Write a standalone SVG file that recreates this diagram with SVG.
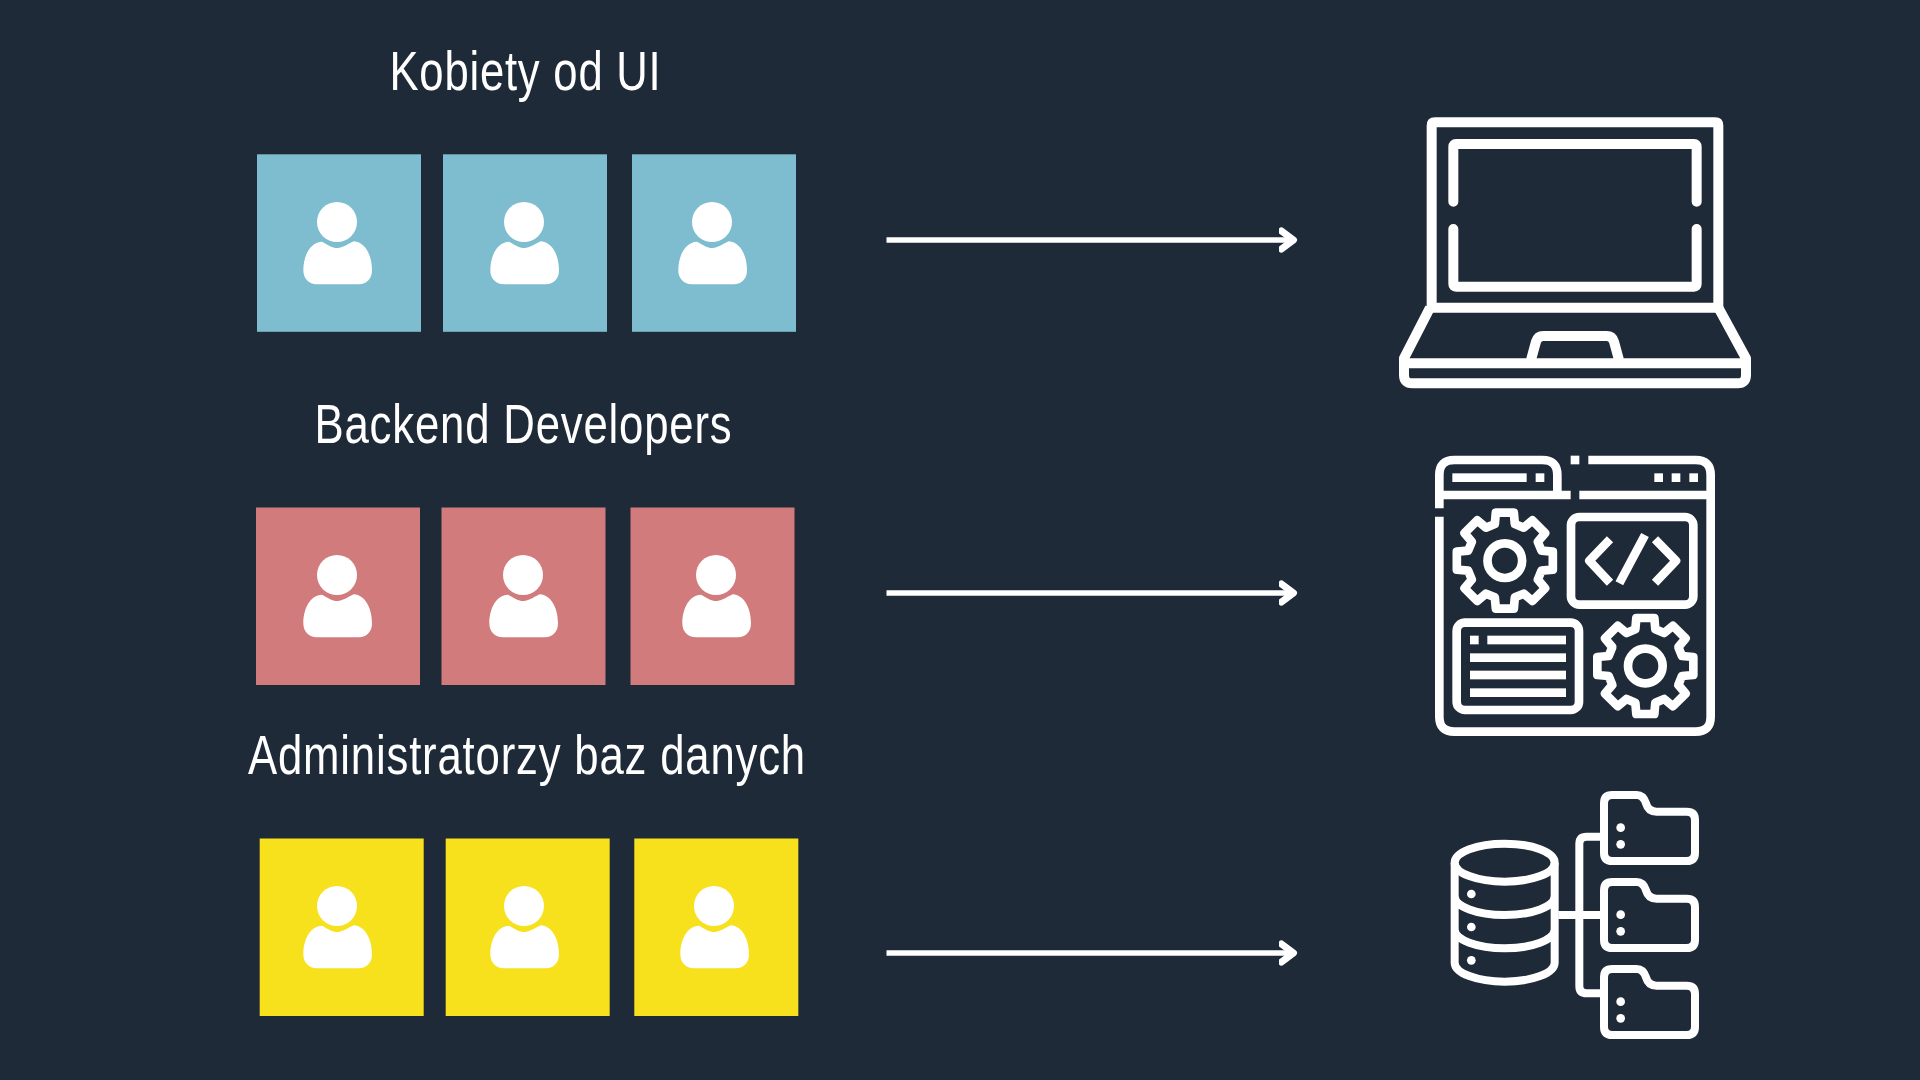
<svg xmlns="http://www.w3.org/2000/svg" width="1920" height="1080" viewBox="0 0 1920 1080">
<style>
.lbl{font-family:"Liberation Sans",Arial,sans-serif;font-size:55px;letter-spacing:1px;fill:#fff;text-anchor:start}
.blue{fill:#7EBDD0}.red{fill:#D17B7D}.yellow{fill:#F7E01C}
.ln{fill:none;stroke:#fff;stroke-linejoin:round}
.w{fill:#fff}
.arrow{fill:none;stroke:#fff;stroke-width:5.500}
</style>
<defs>
<g id="person"><g transform="scale(.3333) translate(-290,-245)"><circle class="w" cx="290" cy="245" r="60"/><path class="w" d="M245 304C265 315 275 323 291 323C308 323 320 312 340 303C375 305 395 345 395 390C395 415 380 432 355 432H230C205 432 189 415 189 390C189 345 210 305 245 304Z"/></g></g>
<marker id="head" markerUnits="userSpaceOnUse" markerWidth="24" markerHeight="30" refX="14" refY="15" orient="auto"><path d="M3 6L15 15L3 24" fill="none" stroke="#fff" stroke-width="7" stroke-linecap="round" stroke-linejoin="round"/></marker>
<g id="gear"><path class="ln" stroke-width="26" stroke-linejoin="miter" d="M-30 -110L-27 -144L27 -144L30 -110L56.6 -99L82.7 -120.9L120.9 -82.7L99 -56.6L110 -30L144 -27L144 27L110 30L99 56.6L120.9 82.7L82.7 120.9L56.6 99L30 110L27 144L-27 144L-30 110L-56.6 99L-82.7 120.9L-120.9 82.7L-99 56.6L-110 30L-144 27L-144 -27L-110 -30L-99 -56.6L-120.9 -82.7L-82.7 -120.9L-56.6 -99Z"/><circle class="ln" stroke-width="26" r="52"/></g>
<g id="folder"><path class="ln" stroke-width="24" d="M547 45H620Q640 45 648 70Q655 95 680 95H770Q795 95 795 120V218Q795 243 770 243H547Q522 243 522 218V70Q522 45 547 45Z"/><circle class="w" cx="572" cy="143" r="13"/><circle class="w" cx="572" cy="193" r="13"/></g>
</defs>
<rect width="1920" height="1080" fill="#1F2A38"/>
<text id="label-ui" class="lbl" x="389.500" y="90" textLength="272" lengthAdjust="spacingAndGlyphs">Kobiety od UI</text>
<text id="label-backend" class="lbl" x="314.500" y="443" textLength="418" lengthAdjust="spacingAndGlyphs">Backend Developers</text>
<text id="label-dba" class="lbl" x="248" y="774" textLength="558" lengthAdjust="spacingAndGlyphs">Administratorzy baz danych</text>
<g id="ui-1"><rect class="blue" x="257" y="154.300" width="164" height="177.500"/><use href="#person" x="337" y="222"/></g>
<g id="ui-2"><rect class="blue" x="443" y="154.300" width="164" height="177.500"/><use href="#person" x="524" y="222"/></g>
<g id="ui-3"><rect class="blue" x="632" y="154.300" width="164" height="177.500"/><use href="#person" x="712" y="222"/></g>
<g id="be-1"><rect class="red" x="256" y="507.500" width="164" height="177.500"/><use href="#person" x="337" y="575"/></g>
<g id="be-2"><rect class="red" x="441.500" y="507.500" width="164" height="177.500"/><use href="#person" x="523" y="575"/></g>
<g id="be-3"><rect class="red" x="630.500" y="507.500" width="164" height="177.500"/><use href="#person" x="716" y="575"/></g>
<g id="db-1"><rect class="yellow" x="259.700" y="838.500" width="164" height="177.500"/><use href="#person" x="337" y="906"/></g>
<g id="db-2"><rect class="yellow" x="445.700" y="838.500" width="164" height="177.500"/><use href="#person" x="524" y="906"/></g>
<g id="db-3"><rect class="yellow" x="634.300" y="838.500" width="164" height="177.500"/><use href="#person" x="714" y="906"/></g>
<g id="connectors">
<path class="arrow" d="M886.500 240H1292.500" marker-end="url(#head)"/>
<path class="arrow" d="M886.500 593H1292.500" marker-end="url(#head)"/>
<path class="arrow" d="M886.500 953H1292.500" marker-end="url(#head)"/>
</g>
<g id="laptop" transform="translate(1380,100) scale(.33333)">
<path class="w" fill-rule="evenodd" d="M165 52H1005Q1030 52 1030 77V638H140V77Q140 52 165 52ZM170 82V608H1000V82Z"/>
<g class="ln" stroke-width="30">
<path stroke-linecap="round" d="M220 305V140Q220 132 228 132H942Q950 132 950 140V305M220 387V552Q220 560 228 560H942Q950 560 950 552V387"/>
<path d="M150 623L72 775V825Q72 850 97 850H1073Q1098 850 1098 825V775L1015 623M72 790H1098"/>
<path d="M453 780L468 725Q473 708 490 708H680Q697 708 702 725L717 780"/>
</g></g>
<g id="code-window" transform="translate(1420,440) scale(.33333)">
<g class="ln" stroke-width="26" stroke-linejoin="miter">
<path d="M58 205V105Q58 60 103 60H367Q412 60 412 105V165M58 165H452M478 165H872M505 60H827Q872 60 872 105V830Q872 875 827 875H103Q58 875 58 830V230"/>
<rect x="453" y="231" width="367" height="263" rx="25"/>
<rect x="110" y="548" width="367" height="262" rx="25"/>
<path d="M570 298L508 362L570 428M675 285L598 430M705 298L768 362L705 428"/>
</g>
<g class="w">
<rect x="452" y="47" width="26" height="26"/><rect x="97" y="100" width="223" height="26"/><rect x="347" y="100" width="26" height="26"/><rect x="703" y="100" width="26" height="26"/><rect x="755" y="100" width="26" height="26"/><rect x="808" y="100" width="26" height="26"/>
<rect x="150" y="587" width="26" height="26"/><rect x="202" y="587" width="236" height="26"/><rect x="150" y="640" width="288" height="26"/><rect x="150" y="692" width="288" height="26"/><rect x="150" y="745" width="288" height="26"/>
</g>
<use href="#gear" x="254.500" y="362"/><use href="#gear" x="676" y="678"/>
</g>
<g id="database" transform="translate(1430,780) scale(.33333)">
<g class="ln" stroke-width="24">
<ellipse cx="224" cy="248" rx="150" ry="57"/>
<path d="M74 248V548A150 57 0 0 0 374 548V248M74 348A150 57 0 0 0 374 348M74 448A150 57 0 0 0 374 448"/>
<path d="M385 405H510M520 170H470Q448 170 448 192V618Q448 640 470 640H520"/>
</g>
<circle class="w" cx="124" cy="342" r="13"/><circle class="w" cx="124" cy="441" r="13"/><circle class="w" cx="124" cy="541" r="13"/>
<use href="#folder"/><use href="#folder" y="261"/><use href="#folder" y="522"/>
</g>
</svg>
